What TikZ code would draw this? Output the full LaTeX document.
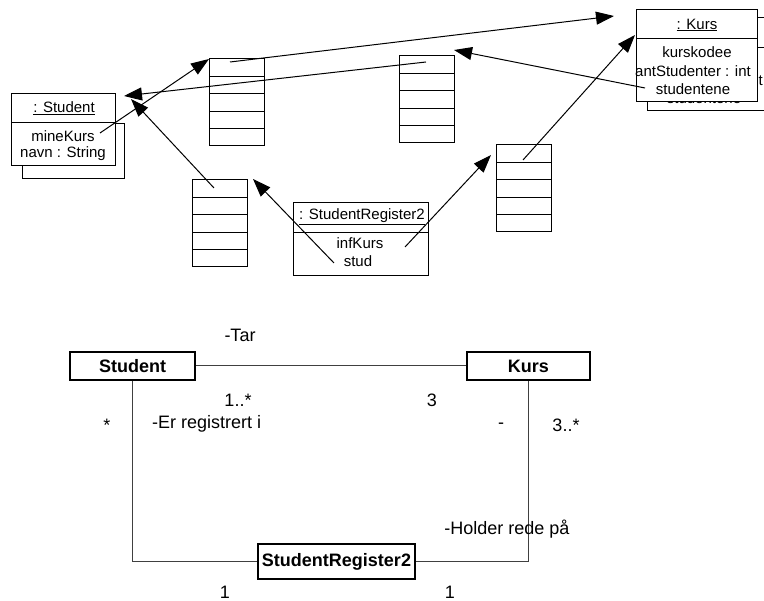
\documentclass[tikz,border=0pt]{standalone}
\usepackage{fontspec}
\setmainfont{Liberation Sans}
\usetikzlibrary{arrows.meta}
\begin{document}
\begin{tikzpicture}[x=1pt,y=-1pt,
  obj/.style={draw=black, fill=white, line width=1pt},
  cell/.style={draw=black, fill=white, line width=1pt, minimum width=55pt, minimum height=17.4pt, inner sep=0pt, outer sep=0pt, anchor=north west},
  arr/.style={line width=1pt, -{Triangle[length=18pt,width=13pt]}},
  small/.style={font=\fontsize{15}{17}\selectfont, inner sep=0pt},
  big/.style={font=\fontsize{18}{21}\selectfont, inner sep=0pt},
  cls/.style={draw=black, line width=1.5pt, fill=white, inner sep=0pt, font=\fontsize{18}{21}\selectfont\bfseries},
  assoc/.style={draw=black!75, line width=1pt},
]
\useasboundingbox (0,0) rectangle (764,601);
\clip (0,0) rectangle (764,601);

% ---------- Student object (multi-object) ----------
\draw[obj] (22,124) rectangle (124,179);
\draw[obj] (11,94) rectangle (115,166);
\draw[line width=1pt] (11,123) -- (115,123);
\node[small] (stT) at (64,108) {\underline{: Student}};
\node[small] (stA) at (63,136) {mineKurs};
\node[small] (stB) at (63,154) {navn : String};

% ---------- Kurs object (multi-object) ----------
\draw[obj] (647,18) rectangle (768,111);
\draw[line width=1pt] (647,48) -- (768,48);
\node[small] at (708,34) {\underline{: Kurs}};
\node[small] at (708,61) {kurskodee};
\node[small] at (705,80) {antStudenter : int};
\node[small] at (704,98) {studentene};
\draw[obj] (636,10) rectangle (757,102);
\draw[line width=1pt] (636,39) -- (757,39);
\node[small] (kuT) at (697,25) {\underline{: Kurs}};
\node[small] (kuA) at (697,52) {kurskodee};
\node[small] (kuB) at (693,71) {antStudenter : int};
\node[small] (kuC) at (693,89) {studentene};

% ---------- StudentRegister2 object ----------
\draw[obj] (293,203) rectangle (428,276);
\draw[line width=1pt] (293,233) -- (428,233);
\node[small] (srT) at (362,217) {\underline{: StudentRegister2}};
\node[small] (srA) at (360,243) {infKurs};
\node[small] (srB) at (358,261) {stud};

% ---------- arrays ----------
\foreach \n/\x/\y in {A/209/59, B/399/56, C/192/180, D/496/145}{
  \foreach \i in {1,...,5}{
    \node[cell] (\n\i) at (\x,{\y+(\i-1)*17.4}) {};
  }
}

% ---------- arrow end points ----------
\coordinate (pMine) at (100,133);
\coordinate (pA) at (230,62);
\coordinate (pKursIn) at (614,16);
\coordinate (pStudentene) at (645,88);
\coordinate (pBin) at (454,50);
\coordinate (pB) at (426,62);
\coordinate (pStIn1) at (124,96);
\coordinate (pC) at (214,188);
\coordinate (pStIn2) at (131,99);
\coordinate (pStud) at (334,263);
\coordinate (pCin) at (253,179);
\coordinate (pInf) at (405,247);
\coordinate (pDin) at (491,155);
\coordinate (pD) at (523,160);
\coordinate (pKursIn2) at (635,35);

\draw[arr] (pMine) -- (A1.north west);
\draw[arr] (pA) -- (pKursIn);
\draw[arr] (pStudentene) -- (pBin);
\draw[arr] (pB) -- (pStIn1);
\draw[arr] (pC) -- (pStIn2);
\draw[arr] (pStud) -- (pCin);
\draw[arr] (pInf) -- (pDin);
\draw[arr] (pD) -- (pKursIn2);

% ---------- class diagram ----------
\node[cls, minimum width=125pt, minimum height=28pt] (Student) at (132.5,366) {Student};
\node[cls, minimum width=123pt, minimum height=28pt] (Kurs) at (528.5,366) {Kurs};
\node[cls, minimum width=157pt, minimum height=35pt] (SR) at (336.5,561.5) {StudentRegister2};

\draw[assoc] (Student.east) -- (Kurs.west);
\draw[assoc] (Student.south) |- (SR.west);
\draw[assoc] (SR.east) -| (Kurs.south);

\node[big] (lTar) at (240,335) {-Tar};
\node[big] (l1s) at (238,400) {1..*};
\node[big] (l3) at (432,400) {3};
\node[big] (lst) at (107,425) {*};
\node[big, anchor=west] (lEr) at (152,424) {-Er registrert i};
\node[big] (ldash) at (501,426) {-};
\node[big] (l3s) at (566,425) {3..*};
\node[big] (lHold) at (507,529) {-Holder rede på};
\node[big] (l1a) at (225,592) {1};
\node[big] (l1b) at (450,592) {1};
\end{tikzpicture}
\end{document}
